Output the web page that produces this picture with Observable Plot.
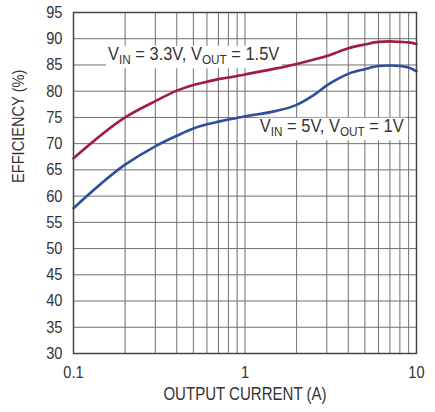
<!DOCTYPE html>
<html>
<head>
<meta charset="utf-8">
<script src="https://cdn.jsdelivr.net/npm/d3@7"></script>
<script src="https://cdn.jsdelivr.net/npm/@observablehq/plot@0.6"></script>
<style>
  html, body { margin: 0; padding: 0; background: #fff; }
  #chart svg { display: block; }
</style>
</head>
<body>
<div id="chart"></div>
<script>
// Output current (A)
const currentA = [0.1, 0.2, 0.3, 0.4, 0.5, 0.6, 0.7, 0.8, 1, 1.5, 2, 2.5, 3, 3.5, 4, 5, 6, 7, 8, 9, 10];
// Efficiency (%) VIN = 3.3V, VOUT = 1.5V
const eff33 = [67.2, 75.0, 78.1, 80.1, 81.2, 81.8, 82.3, 82.6, 83.2, 84.3, 85.2, 86.0, 86.7, 87.5, 88.2, 88.9, 89.4, 89.5, 89.4, 89.3, 89.0];
// Efficiency (%) VIN = 5V, VOUT = 1V
const eff5 = [57.7, 66.0, 69.5, 71.5, 72.9, 73.7, 74.2, 74.6, 75.2, 76.2, 77.4, 79.2, 81.1, 82.4, 83.3, 84.2, 84.8, 84.9, 84.8, 84.5, 83.8];

const xTicks = [0.1, 1, 10];
const xGrid = [0.1, 0.2, 0.3, 0.4, 0.5, 0.6, 0.7, 0.8, 0.9, 1, 2, 3, 4, 5, 6, 7, 8, 9, 10];
const yTicks = [30, 35, 40, 45, 50, 55, 60, 65, 70, 75, 80, 85, 90, 95];

const seriesNames = ["3.3V to 1.5V", "5V to 1V"];
const seriesColors = ["#a01c3c", "#2f4e9e"];

// Curve labels (subscript parts flagged with 1)
const labelX = [0.159, 1.22];
const labelY = [85.9, 72.2];
const labelParts = [
  [["V", 0], ["IN", 1], [" = 3.3V, V", 0], ["OUT", 1], [" = 1.5V", 0]],
  [["V", 0], ["IN", 1], [" = 5V, V", 0], ["OUT", 1], [" = 1V", 0]]
];

const rows = [];
currentA.forEach((c, i) => {
  rows.push({series: seriesNames[0], current: c, eff: eff33[i]});
  rows.push({series: seriesNames[1], current: c, eff: eff5[i]});
});
const labels = labelParts.map((p, i) => ({x: labelX[i], y: labelY[i], text: p.map(d => d[0]).join(""), parts: p}));

const FONT = "'Liberation Sans', Arial, sans-serif";
const textColor = "#333";
const SQUEEZE = 0.86;
const LABEL_SQUEEZE = 0.94;

const plot = Plot.plot({
  width: 435,
  height: 412,
  marginLeft: 73,
  marginRight: 19,
  marginTop: 12,
  marginBottom: 59,
  style: {fontFamily: FONT, fontSize: "17px", color: textColor, background: "#fff"},
  x: {type: "log", domain: [0.1, 10]},
  y: {domain: [30, 95]},
  color: {domain: seriesNames, range: seriesColors},
  marks: [
    Plot.ruleX(xGrid, {stroke: "#707070", strokeWidth: 1}),
    Plot.ruleY(yTicks, {stroke: "#707070", strokeWidth: 1}),
    Plot.axisX(xTicks, {ticks: xTicks, tickSize: 0, tickPadding: 12, tickFormat: d => String(d), label: null, fontSize: 17, fill: textColor}),
    Plot.axisY(yTicks, {ticks: yTicks, tickSize: 0, tickPadding: 11, label: null, fontSize: 17, fill: textColor}),
    Plot.text(["OUTPUT CURRENT (A)"], {frameAnchor: "bottom", dy: 46, fontSize: 17.5, fill: textColor}),
    Plot.text(["EFFICIENCY (%)"], {frameAnchor: "left", dx: -55, dy: 0, rotate: -90, fontSize: 17, fill: textColor}),
    Plot.text(labels, {x: "x", y: "y", text: "text", textAnchor: "start", lineAnchor: "bottom", fontSize: 17.5, fill: textColor}),
    Plot.line(rows, {x: "current", y: "eff", z: "series", stroke: "series", strokeWidth: 2.6, curve: "monotone-x"}),
    Plot.frame({stroke: "#444", strokeWidth: 1.5})
  ]
});

document.getElementById("chart").appendChild(plot);

const isLabel = el => labels.some(l => l.text === el.textContent);

// Horizontally condense every text (Helvetica Condensed look), keeping anchors in place
d3.select(plot).selectAll("text").each(function() {
  const t = d3.select(this);
  let tr = t.attr("transform") || "";
  const x = t.attr("x");
  if (x != null && !/em$/.test(x) && +x) {
    tr += ` translate(${+x},0)`;
    t.attr("x", null);
  }
  t.attr("transform", `${tr} scale(${isLabel(this) ? LABEL_SQUEEZE : SQUEEZE},1)`);
});

// Subscripts and white boxes behind the curve labels
d3.select(plot).selectAll("text").each(function() {
  const txt = this.textContent;
  const lab = labels.find(l => l.text === txt);
  if (!lab) return;
  const t = d3.select(this);
  t.text(null);
  let prevSub = 0;
  lab.parts.forEach(([s, sub]) => {
    const ts = t.append("tspan").text(s);
    if (sub) ts.attr("font-size", 12.5);
    const dy = (sub ? 4 : 0) - (prevSub ? 4 : 0);
    if (dy) ts.attr("dy", dy);
    prevSub = sub;
  });
  const bb = this.getBBox();
  d3.select(this.parentNode).insert("rect", () => this)
    .attr("x", bb.x - 2).attr("y", bb.y + 1)
    .attr("width", bb.width + 4).attr("height", bb.height)
    .attr("fill", "#fff")
    .attr("transform", t.attr("transform"));
});
</script>
</body>
</html>
